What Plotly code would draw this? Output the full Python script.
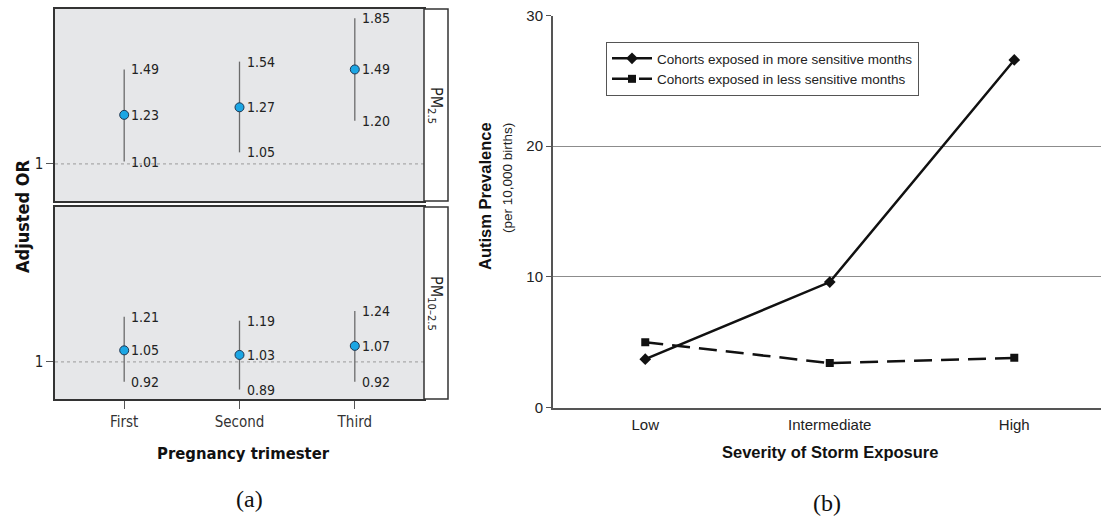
import numpy as np
import plotly.graph_objects as go

W, H = 1101, 516

# ---------------- data ----------------
trimesters = ["First", "Second", "Third"]
pm25_or = [1.23, 1.27, 1.49]
pm25_lo = [1.01, 1.05, 1.20]
pm25_hi = [1.49, 1.54, 1.85]
pm10_or = [1.05, 1.03, 1.07]
pm10_lo = [0.92, 0.89, 0.92]
pm10_hi = [1.21, 1.19, 1.24]
panel_labels = ["PM<sub>2.5</sub>", "PM<sub>10–2.5</sub>"]
ref_or = 1

severity = ["Low", "Intermediate", "High"]
more_sensitive = [3.7, 9.6, 26.6]
less_sensitive = [5.0, 3.4, 3.8]
series_names = ["Cohorts exposed in more sensitive months",
                "Cohorts exposed in less sensitive months"]
prev_ticks = [0, 10, 20, 30]

NARROW = "DejaVu Sans Condensed, Liberation Sans Narrow, Arial Narrow, sans-serif"
ARIAL = "Liberation Sans, Arial, Helvetica, sans-serif"
SERIF = "Liberation Serif, Times New Roman, serif"


def px(x):
    return x / W


def py(y):
    return 1 - y / H


fig = go.Figure()

xi = list(range(len(trimesters)))
panels = [(pm25_or, pm25_lo, pm25_hi, "x", "y"),
          (pm10_or, pm10_lo, pm10_hi, "x2", "y2")]

annotations = []
for est, lo, hi, xa, ya in panels:
    fig.add_trace(go.Scatter(
        x=xi, y=est, xaxis=xa, yaxis=ya, mode="markers", showlegend=False,
        marker=dict(size=9, color="#1BA6E4", line=dict(color="#1E3550", width=1)),
        error_y=dict(type="data", symmetric=False,
                     array=[h - e for h, e in zip(hi, est)],
                     arrayminus=[e - l for e, l in zip(est, lo)],
                     width=0, thickness=1.3, color="#6b6b6b"),
    ))
    for i in xi:
        for v in (hi[i], est[i], lo[i]):
            annotations.append(dict(
                x=i, y=np.log10(v), xref=xa, yref=ya, text=f"{v:.2f}",
                showarrow=False, xanchor="left", yanchor="middle", xshift=5,
                font=dict(family=NARROW, size=14, color="#222")))

# right panel lines
fig.add_trace(go.Scatter(
    x=list(range(len(severity))), y=more_sensitive, xaxis="x3", yaxis="y3",
    mode="lines+markers", name=series_names[0],
    line=dict(color="#111", width=2.5),
    marker=dict(symbol="diamond", size=9, color="#111")))
fig.add_trace(go.Scatter(
    x=list(range(len(severity))), y=less_sensitive, xaxis="x3", yaxis="y3",
    mode="lines+markers", name=series_names[1],
    line=dict(color="#111", width=2.5, dash="18px,9px"),
    marker=dict(symbol="square", size=8, color="#111")))

# ---------------- layout ----------------
yrange = [-0.068, 0.284]
left_dom = [px(55), px(424)]
common_x = dict(range=[-0.6, 2.6], tickvals=xi, ticktext=trimesters,
                showgrid=False, zeroline=False, showline=True, mirror=True,
                linecolor="#333", linewidth=1.5, automargin=False)
common_y = dict(type="log", range=yrange, tickvals=[ref_or], ticktext=[str(ref_or)],
                showgrid=False, zeroline=False, showline=True, mirror=True,
                linecolor="#333", linewidth=1.5, ticks="outside", ticklen=7,
                tickcolor="#555", tickfont=dict(family=NARROW, size=15, color="#222"),
                automargin=False)

fig.update_layout(
    template="none",
    width=W, height=H, margin=dict(l=0, r=0, t=0, b=0, pad=0, autoexpand=False),
    paper_bgcolor="white", plot_bgcolor="white",
    xaxis=dict(domain=left_dom, anchor="y", showticklabels=False, ticks="", **common_x),
    yaxis=dict(domain=[py(201), py(9)], anchor="x", **common_y),
    xaxis2=dict(domain=left_dom, anchor="y2", ticks="outside", ticklen=8, tickcolor="#555",
                tickfont=dict(family=NARROW, size=15, color="#333"), **common_x),
    yaxis2=dict(domain=[py(399), py(207)], anchor="x2", **common_y),
    xaxis3=dict(domain=[px(553), 1.0], anchor="y3", range=[-0.5, 2.47],
                tickvals=list(range(len(severity))), ticktext=severity,
                showgrid=False, zeroline=False, showline=True, linecolor="#555",
                linewidth=2, ticks="outside", ticklen=2, tickcolor="rgba(0,0,0,0)",
                tickfont=dict(family=ARIAL, size=15, color="#222"), automargin=False),
    yaxis3=dict(domain=[py(407.5), py(15.5)], anchor="x3", range=[0, 30],
                tickvals=prev_ticks, showgrid=True, gridcolor="#8c8c8c", gridwidth=1,
                zeroline=False, showline=True, linecolor="#555", linewidth=2,
                ticks="outside", ticklen=5, tickcolor="#555",
                tickfont=dict(family=ARIAL, size=15, color="#222"), automargin=False),
    legend=dict(x=px(606), y=py(42), xanchor="left", yanchor="top",
                bgcolor="white", bordercolor="#555", borderwidth=1,
                font=dict(family=ARIAL, size=13.5, color="#222"),
                itemwidth=40, tracegroupgap=0),
    showlegend=True,
)

shapes = []
for ya, (y0, y1) in zip(["y", "y2"], [(9, 201), (207, 399)]):
    xd = "x domain" if ya == "y" else "x2 domain"
    # gray panel background
    shapes.append(dict(type="rect", xref=xd, yref=f"{ya} domain", x0=0, x1=1, y0=0, y1=1,
                       fillcolor="#E6E7E9", line=dict(width=0), layer="below"))
    # reference line at OR = 1
    shapes.append(dict(type="line", xref=xd, yref=ya, x0=0, x1=1, y0=ref_or, y1=ref_or,
                       line=dict(color="#9a9a9a", width=1, dash="dot"), layer="below"))
    # strip
    shapes.append(dict(type="rect", xref="paper", yref="paper",
                       x0=px(424), x1=px(448), y0=py(y1), y1=py(y0),
                       fillcolor="white", line=dict(color="#333", width=1.5)))

for lab, (y0, y1) in zip(panel_labels, [(9, 201), (207, 399)]):
    annotations.append(dict(x=px(436), y=py((y0 + y1) / 2), xref="paper", yref="paper",
                            text=lab, textangle=90, showarrow=False,
                            xanchor="center", yanchor="middle",
                            font=dict(family=NARROW, size=16, color="#222")))


def label(x, y, text, font, angle=0, xanchor="center", yanchor="middle"):
    return dict(x=px(x), y=py(y), xref="paper", yref="paper", text=text,
                textangle=angle, showarrow=False, xanchor=xanchor, yanchor=yanchor,
                font=font)


annotations += [
    label(22, 216, "<b>Adjusted OR</b>", dict(family=NARROW, size=18, color="#111"), angle=-90),
    label(243, 453, "<b>Pregnancy trimester</b>", dict(family=NARROW, size=16.5, color="#111")),
    label(249, 499, "(a)", dict(family=SERIF, size=24, color="#111")),
    label(485, 120, "<b>Autism Prevalence</b>", dict(family=ARIAL, size=16.5, color="#111"),
          angle=-90, yanchor="top"),
    label(507, 121, "(per 10,000 births)", dict(family=ARIAL, size=13.5, color="#222"),
          angle=-90, yanchor="top"),
    label(830, 452, "<b>Severity of Storm Exposure</b>", dict(family=ARIAL, size=16.5, color="#111")),
    label(827, 503, "(b)", dict(family=SERIF, size=24, color="#111")),
]

fig.update_layout(shapes=shapes, annotations=annotations)
fig.write_html("out.html", config={"displayModeBar": False},
               post_script="document.body.style.margin='0px';document.body.style.overflow='hidden';")
